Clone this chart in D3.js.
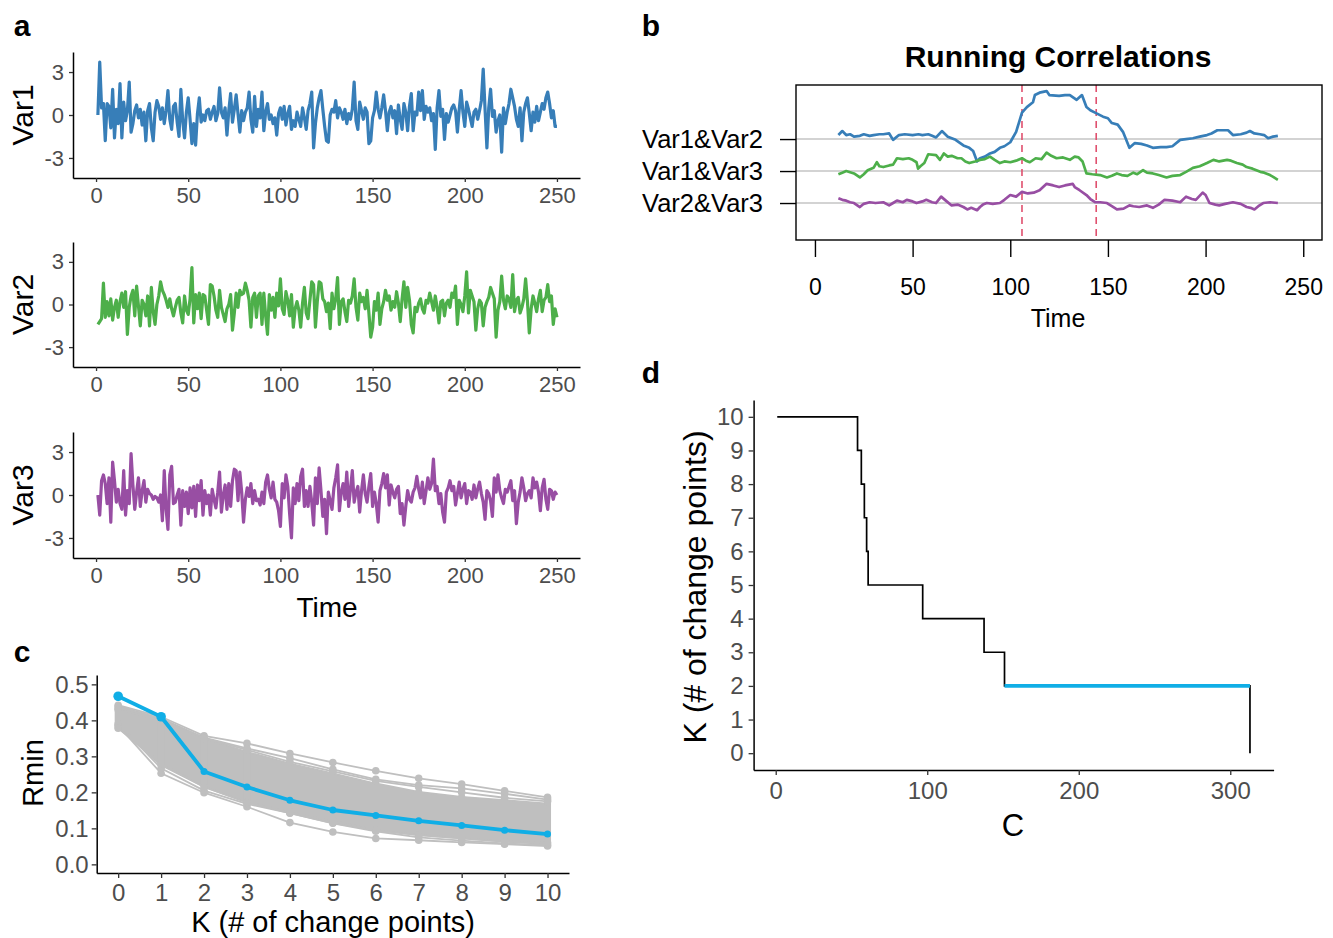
<!DOCTYPE html>
<html>
<head>
<meta charset="utf-8">
<script src="https://d3js.org/d3.v7.min.js"></script>
<style>
  body { margin: 0; background: #fff; }
  svg { display: block; }
</style>
</head>
<body>
<script>
// ---- data ----
var var1 = [0.0,3.7,0.5,0.8,-1.8,0.8,0.6,-0.9,1.8,-1.6,
  0.4,-0.6,2.2,-1.6,0.9,-0.4,0.3,2.3,-1.2,-0.6,
  0.3,0.7,-0.2,0.4,-0.7,0.2,-1.8,0.3,0.8,-0.9,
  -1.8,0.2,1.0,0.6,-0.3,0.5,-0.6,0.3,1.7,-0.3,
  -1.0,0.6,0.8,-0.5,-1.5,1.8,-0.4,-1.6,0.2,1.2,
  -0.3,-2.0,-0.6,-2.1,0.1,1.2,-0.5,0.0,-0.4,0.3,
  0.4,-0.3,0.2,0.6,-0.4,0.1,1.9,0.2,-0.2,0.5,
  -1.4,0.3,1.5,-0.5,0.4,1.4,0.1,-1.2,0.3,-0.4,
  0.2,0.5,1.6,-0.3,-1.2,1.3,-0.8,0.4,-0.2,1.6,
  -1.1,0.2,0.8,-0.3,0.0,-0.6,-0.2,-1.4,0.1,0.5,
  -0.3,0.6,-0.7,0.1,0.6,-1.0,-0.4,-0.8,0.2,-0.3,
  -0.8,0.5,-0.2,-1.0,0.3,0.8,1.6,-2.3,-0.6,0.5,
  1.2,1.7,0.4,-0.8,-1.8,-1.9,0.0,0.4,0.2,1.0,
  -0.2,0.5,0.2,-0.3,0.4,-0.6,0.1,-0.3,0.4,2.3,
  -0.4,-1.0,0.9,0.3,-0.3,0.5,0.2,-2.0,-1.8,-0.2,
  0.3,1.6,0.4,-0.2,0.5,1.4,0.3,-1.1,0.2,0.6,
  -0.2,0.3,-1.3,0.7,-0.3,-1.0,0.8,0.2,-1.1,0.6,
  1.5,-1.1,0.2,0.0,1.6,0.3,1.7,-0.3,0.6,0.2,
  0.5,-0.4,0.1,-2.4,0.5,1.7,-0.1,0.4,-1.7,0.1,
  -0.5,0.0,0.5,0.7,0.3,-1.2,0.4,1.7,0.2,-0.8,
  0.9,0.4,-0.2,-0.8,0.2,0.4,-0.3,0.3,1.0,3.2,
  0.4,-2.3,0.5,1.8,-0.1,0.3,-1.2,-0.4,0.0,-2.6,
  0.5,-0.6,0.2,0.8,1.8,1.2,0.6,-0.3,-0.8,0.5,
  -1.8,0.2,0.8,1.2,0.1,-1.1,0.2,-0.5,0.6,-0.4,
  0.2,0.8,0.4,1.2,1.6,0.8,-0.2,0.3,-0.8,-0.8];

var var2 = [-1.4,-1.2,-1.0,1.5,-0.9,0.2,-0.8,0.4,-1.1,-0.2,
  0.3,-0.9,0.2,0.8,-0.2,0.9,-2.1,-0.2,0.6,1.0,
  -0.8,1.3,-0.1,-1.5,0.3,0.0,-0.8,0.6,-1.5,1.2,
  -0.5,-1.4,0.0,0.6,1.6,1.0,0.7,0.3,-0.2,0.4,
  -0.3,-0.8,-0.2,0.3,0.5,-0.6,-1.3,0.6,-0.4,-0.7,
  0.4,2.6,-1.3,0.7,-0.3,0.8,-1.0,0.7,0.6,-0.4,
  -1.4,1.4,1.3,0.6,-0.4,-0.9,1.0,-0.2,-0.7,-1.2,
  -0.3,0.0,0.7,-1.8,-0.6,0.8,-0.2,1.0,0.7,0.8,
  1.5,1.0,0.3,-1.6,0.5,0.8,-0.9,0.6,0.8,-1.4,
  0.8,-0.8,-2.1,0.7,-0.4,0.5,-0.9,0.8,-0.1,1.8,
  -0.3,-0.7,0.9,0.3,-0.8,0.7,-1.6,-0.3,0.2,-0.4,
  -1.6,0.1,1.2,-0.6,-1.0,0.3,1.6,1.4,-1.6,0.2,
  1.6,1.5,0.4,0.2,-0.5,0.1,-1.7,0.8,-0.3,0.4,
  1.9,-1.4,0.2,0.4,-0.5,-1.2,0.3,0.1,0.6,1.8,
  -0.2,-1.1,0.8,0.2,0.5,-0.3,1.0,-0.6,-2.3,-1.6,
  0.2,-0.4,0.8,-1.4,-0.3,0.2,1.0,0.3,0.6,-0.4,
  0.2,-0.2,0.9,0.1,-1.2,0.4,1.6,-0.2,1.2,0.3,
  -1.4,-2.0,-0.2,-0.5,0.1,0.4,-0.3,-0.6,0.3,0.1,
  0.8,0.2,-0.4,0.6,-0.2,-1.3,0.2,0.3,-0.8,0.1,
  0.3,-0.2,0.8,0.5,1.3,-1.4,0.3,0.0,-0.5,0.6,
  2.3,-0.6,1.0,0.6,0.2,-1.8,-0.3,0.3,0.1,-1.5,
  -0.2,0.2,0.5,1.2,0.8,0.4,-2.3,-0.4,0.2,2.0,
  0.3,-0.3,0.6,0.4,-0.2,2.1,-0.5,0.3,0.5,-0.6,
  -0.2,0.4,1.8,0.2,-2.0,-0.3,0.6,0.1,-0.5,0.4,
  1.0,-0.5,0.3,0.5,1.4,0.2,0.6,-1.4,-0.3,-0.9];

var var3 = [0.0,-1.4,1.0,1.4,0.8,-0.6,1.2,-1.9,2.3,1.0,
  -0.5,0.4,-0.6,-1.0,1.7,-1.4,0.3,-0.6,2.9,0.7,
  -1.0,0.2,1.2,-0.8,0.3,1.0,-0.5,0.4,0.1,0.0,
  -0.3,-0.1,-0.2,-0.5,0.0,-1.8,1.7,-1.0,-2.4,1.4,
  2.0,-0.6,-0.5,0.0,0.4,-2.1,0.3,-0.8,0.2,-1.3,
  0.5,-0.9,0.6,-1.5,0.7,-0.4,1.0,-1.4,0.3,-0.6,
  0.0,-1.4,0.4,-0.3,-0.9,0.2,1.6,-1.2,0.0,0.7,
  -1.0,0.8,-0.8,1.0,1.8,1.7,-0.4,1.6,0.2,-1.9,
  -0.3,0.5,-0.1,0.8,-0.6,0.3,-0.4,-0.3,-0.7,0.2,
  -0.6,0.9,1.4,0.4,-0.2,0.9,-0.3,-0.5,-1.1,-2.2,
  0.8,-0.2,1.4,0.6,-1.3,-3.0,0.5,-0.6,0.8,-0.4,
  1.3,1.8,-0.8,0.3,-0.8,0.6,-0.5,-2.1,1.2,-0.6,
  1.9,0.3,-1.5,-0.3,-2.7,0.2,-0.4,-1.0,0.5,1.2,
  2.1,-1.1,0.2,0.8,-0.3,1.6,-0.8,0.4,1.7,-0.5,
  0.2,0.6,-1.2,0.3,1.4,0.1,-0.5,0.6,1.5,-0.8,
  0.2,-0.6,-1.9,0.3,0.8,1.5,0.5,1.4,-0.7,0.7,
  0.2,-0.2,0.4,0.6,-1.3,-0.6,-2.1,-0.8,0.3,-0.3,
  -0.5,0.2,0.5,1.3,0.4,-0.2,0.9,-0.6,0.3,1.2,
  0.4,0.8,2.5,0.3,0.6,-0.6,0.1,-1.2,-1.9,0.2,
  0.5,1.0,0.3,0.6,-0.7,0.1,0.9,-0.2,0.4,0.8,
  -0.6,0.3,0.2,-0.3,0.7,-0.2,0.4,0.9,0.1,-0.5,
  -1.7,0.3,0.1,-0.4,-1.5,1.2,0.2,1.4,0.3,-0.2,
  -0.6,0.4,0.2,0.6,1.0,-0.4,0.3,-2.0,-0.5,0.2,
  1.2,0.5,-0.4,0.1,0.3,-0.2,1.2,0.5,0.9,0.2,
  -1.1,0.5,1.1,-0.3,-1.0,0.4,0.3,-0.3,0.2,0.0];

// running correlations, [time, r]
var corr12 = [[12,0.05],[14,0.10],[16,0.05],[18,0.06],[20,0.03],[23,0.04],[25,0.06],[28,0.04],[30,0.05],[33,0.06],[35,0.06],[38,0.07],[40,-0.01],[43,0.05],[46,0.06],[50,0.05],[53,0.06],[55,0.05],[58,0.06],[60,0.04],[62,0.02],[65,0.10],[68,0.03],[72,-0.01],[76,-0.08],[79,-0.11],[81,-0.15],[83,-0.28],[84.5,-0.24],[87,-0.22],[89.6,-0.18],[92,-0.16],[94.7,-0.11],[97,-0.09],[100,-0.04],[103,0.09],[106,0.33],[108.5,0.40],[111.6,0.46],[112.6,0.55],[115,0.58],[118.6,0.60],[120,0.55],[125,0.54],[128,0.55],[130.5,0.55],[134,0.49],[136.7,0.55],[139,0.40],[141,0.36],[143.4,0.33],[147.5,0.28],[150,0.26],[152,0.20],[155,0.18],[157.7,0.09],[161,-0.11],[163.8,-0.05],[167,-0.06],[170,-0.08],[173,-0.11],[177,-0.10],[180,-0.10],[183,-0.09],[187,-0.01],[190,0.00],[193.5,0.01],[197,0.03],[200.7,0.05],[203,0.07],[206,0.11],[209,0.11],[211.5,0.11],[214,0.05],[218,0.06],[221,0.08],[222.7,0.10],[225,0.07],[227.8,0.06],[230,0.05],[232,0.01],[234.5,0.03],[237,0.04]];
var corr13 = [[12,-0.04],[14,-0.02],[16,0.00],[20,-0.03],[23,-0.08],[25,-0.04],[27,0.01],[30,0.04],[31.7,0.11],[33,0.06],[35,0.05],[38,0.07],[40,0.08],[42,0.16],[45,0.15],[48,0.16],[50,0.14],[52,0.11],[52.8,0.03],[54,0.06],[56,0.10],[58,0.21],[62,0.20],[64,0.14],[66,0.22],[68,0.18],[70,0.19],[73,0.16],[75,0.16],[77,0.12],[79,0.10],[82,0.12],[84.5,0.14],[87,0.15],[89.6,0.18],[92,0.14],[94.7,0.10],[97,0.12],[100,0.11],[103,0.13],[106,0.16],[108,0.13],[110,0.11],[113,0.16],[116,0.15],[118.6,0.23],[121,0.19],[123.7,0.16],[127,0.17],[130.5,0.14],[133,0.18],[135,0.17],[137,0.12],[139,-0.03],[142,-0.04],[146,-0.05],[149.5,-0.08],[152,-0.06],[154.6,-0.03],[157,-0.05],[160,-0.06],[163,-0.02],[165,-0.04],[168,0.01],[170,-0.02],[173,-0.03],[176,-0.05],[180,-0.08],[183,-0.06],[187,-0.05],[190,-0.01],[193.5,0.04],[197,0.06],[200.7,0.10],[204,0.14],[207,0.12],[211,0.14],[213,0.13],[216,0.10],[219,0.08],[221,0.05],[224,0.03],[228,-0.01],[230,-0.02],[233,-0.05],[235,-0.08],[237,-0.11]];
var corr23 = [[12,0.06],[14,0.04],[16,0.03],[18,0.01],[20,0.00],[23,-0.05],[25,-0.01],[28,0.01],[31,0.00],[35,0.01],[38,-0.03],[40,0.00],[42,0.03],[45,0.01],[47,0.04],[50,0.02],[52,0.00],[55,0.02],[57,0.04],[60,0.01],[62,0.00],[64.6,0.08],[67,0.03],[70,-0.03],[73,-0.02],[76,-0.05],[78,-0.08],[80,-0.06],[83,-0.09],[84.5,-0.05],[86,-0.02],[88,0.00],[91,-0.01],[94.7,0.00],[97,0.04],[100,0.10],[103,0.08],[106,0.14],[109,0.12],[112,0.13],[115,0.16],[118.6,0.24],[122,0.22],[125,0.20],[128,0.22],[132,0.24],[133,0.20],[135.5,0.16],[139,0.10],[141,0.05],[143.4,0.01],[146,0.01],[149.5,0.00],[152,-0.04],[154.6,-0.08],[158,-0.07],[161,-0.03],[163,-0.04],[166,-0.05],[170,-0.03],[173,-0.06],[176,-0.02],[179,0.04],[183,0.03],[187,0.01],[190,0.08],[193,0.05],[195,0.04],[198.5,0.13],[200,0.10],[202,0.00],[205,-0.02],[207,-0.03],[210,-0.01],[214,0.01],[218,-0.01],[221,-0.05],[223,-0.06],[225,-0.08],[227,-0.04],[229.5,0.00],[233,0.01],[237,0.00]];
var corrLabels = ["Var1&Var2", "Var1&Var3", "Var2&Var3"];
var changePoints = [106, 144];

// Rmin vs K
var kValues = [0,1,2,3,4,5,6,7,8,9,10];
var rminSelected = [0.467,0.410,0.258,0.215,0.178,0.151,0.136,0.121,0.108,0.095,0.084];
var bandTop = [0.440,0.405,0.350,0.313,0.280,0.253,0.225,0.202,0.188,0.179,0.169];
var bandBottom = [0.380,0.275,0.215,0.172,0.142,0.114,0.095,0.081,0.072,0.063,0.056];
var grayLines = [
  [0.442,0.410,0.357,0.336,0.308,0.283,0.260,0.239,0.223,0.204,0.186],
  [0.435,0.405,0.352,0.322,0.295,0.264,0.236,0.220,0.211,0.196,0.180],
  [0.430,0.400,0.350,0.318,0.285,0.258,0.232,0.215,0.200,0.185,0.175],
  [0.385,0.253,0.199,0.160,0.116,0.090,0.072,0.067,0.061,0.056,0.051],
  [0.390,0.267,0.205,0.168,0.142,0.114,0.092,0.075,0.066,0.058,0.054],
  [0.378,0.280,0.215,0.172,0.145,0.120,0.095,0.081,0.072,0.063,0.060]
];

// K vs penalty C
var penaltyC = [1, 54, 56.5, 58.5, 60, 61, 97, 137.5, 151, 313];
var nChange = [10, 9, 8, 7, 6, 5, 4, 3, 2, 0];
var selectedK = 2;

var FONT = "'Liberation Sans', Arial, Helvetica, sans-serif";
var varColors = ["#377eb8", "#4daf4a", "#984ea3"];
var blueSel = "#10aee6";
var grayCol = "#bfbfbf";

var svg = d3.select("body").append("svg")
  .attr("width", 1333)
  .attr("height", 938)
  .style("font-family", FONT);

svg.append("rect").attr("width", 1333).attr("height", 938).attr("fill", "#fff");

function styleAxis(g, size, color) {
  g.attr("font-family", FONT).attr("font-size", size);
  g.select(".domain").attr("stroke", "#000").attr("stroke-width", 1.5);
  g.selectAll(".tick line").attr("stroke", "#333").attr("stroke-width", 1.3);
  g.selectAll(".tick text").attr("fill", color);
}

function panelLetter(txt, x, y) {
  svg.append("text").attr("x", x).attr("y", y).attr("dy", "0.35em")
    .attr("text-anchor", "middle")
    .attr("font-size", 30).attr("font-weight", "bold")
    .text(txt);
}

function yTitle(txt, x, y, size) {
  svg.append("text")
    .attr("transform", "translate(" + x + "," + y + ") rotate(-90)")
    .attr("dy", "0.35em")
    .attr("text-anchor", "middle")
    .attr("font-size", size)
    .text(txt);
}

function xTitle(txt, x, y, size) {
  svg.append("text").attr("x", x).attr("y", y).attr("dy", "0.35em")
    .attr("text-anchor", "middle")
    .attr("font-size", size)
    .text(txt);
}

// ---- panel a ----
var xA = d3.scaleLinear().domain([-12.5, 262.5]).range([73, 580]);
var timeIdx = d3.range(1, 251);
var panelsA = [
  { name: "Var1", values: var1, top: 52, bottom: 178 },
  { name: "Var2", values: var2, top: 242, bottom: 367 },
  { name: "Var3", values: var3, top: 432, bottom: 558 }
];

panelsA.forEach(function(p, i) {
  var y = d3.scaleLinear().domain([-4.4, 4.4]).range([p.bottom, p.top]);
  var line = d3.line()
    .x(function(d, j) { return xA(timeIdx[j]); })
    .y(function(d) { return y(d); });

  svg.append("path").datum(p.values)
    .attr("d", line)
    .attr("fill", "none")
    .attr("stroke", varColors[i])
    .attr("stroke-width", 3.2)
    .attr("stroke-linejoin", "round");

  var ga = svg.append("g").attr("transform", "translate(73,0)")
    .call(d3.axisLeft(y).tickValues([-3, 0, 3]).tickSize(4).tickSizeOuter(0).tickPadding(5)
      .tickFormat(function(d) { return String(d); }));
  styleAxis(ga, 22, "#4d4d4d");

  var gx = svg.append("g").attr("transform", "translate(0," + p.bottom + ")")
    .call(d3.axisBottom(xA).tickValues([0, 50, 100, 150, 200, 250]).tickSize(4).tickSizeOuter(0).tickPadding(5));
  styleAxis(gx, 22, "#4d4d4d");

  yTitle(p.name, 22, (p.top + p.bottom) / 2, 30);
});
xTitle("Time", 327, 607, 28);
panelLetter("a", 22, 25);

// ---- panel b ----
var xB = d3.scaleLinear().domain([-9.7, 259.6]).range([796, 1322]);
var yB = d3.scaleLinear().domain([-0.156, 4.69]).range([240, 85]);
var rowOf = [3, 2, 1];
var corrSeries = [corr12, corr13, corr23];

rowOf.forEach(function(r) {
  svg.append("line")
    .attr("x1", 796).attr("x2", 1322)
    .attr("y1", yB(r)).attr("y2", yB(r))
    .attr("stroke", "#c4c4c4").attr("stroke-width", 1.6);
});

changePoints.forEach(function(cp) {
  svg.append("line")
    .attr("x1", xB(cp)).attr("x2", xB(cp))
    .attr("y1", 85).attr("y2", 240)
    .attr("stroke", "#e0506e").attr("stroke-width", 1.6)
    .attr("stroke-dasharray", "7,5");
});

corrSeries.forEach(function(s, i) {
  var line = d3.line()
    .x(function(d) { return xB(d[0]); })
    .y(function(d) { return yB(rowOf[i] + d[1] * 2.5); });
  svg.append("path").datum(s)
    .attr("d", line)
    .attr("fill", "none")
    .attr("stroke", varColors[i])
    .attr("stroke-width", 2.7)
    .attr("stroke-linejoin", "round");
});

svg.append("rect")
  .attr("x", 796).attr("y", 85).attr("width", 526).attr("height", 155)
  .attr("fill", "none").attr("stroke", "#000").attr("stroke-width", 1.4);

var gbx = svg.append("g").attr("transform", "translate(0,240)")
  .call(d3.axisBottom(xB).tickValues([0, 50, 100, 150, 200, 250]).tickSize(17).tickPadding(22));
gbx.select(".domain").remove();
styleAxis(gbx, 23, "#000");
gbx.selectAll(".tick line").attr("stroke", "#000").attr("stroke-width", 1.4);

var gby = svg.append("g").attr("transform", "translate(796,0)")
  .call(d3.axisLeft(yB).tickValues(rowOf).tickSize(16).tickPadding(17)
    .tickFormat(function(d, i) { return corrLabels[i]; }));
gby.select(".domain").remove();
styleAxis(gby, 25.5, "#000");
gby.selectAll(".tick line").attr("stroke", "#000").attr("stroke-width", 1.4);

svg.append("text").attr("x", 1058).attr("y", 56).attr("dy", "0.35em")
  .attr("text-anchor", "middle").attr("font-size", 30).attr("font-weight", "bold")
  .text("Running Correlations");
xTitle("Time", 1058, 318, 25);
panelLetter("b", 651, 25);

// ---- panel c ----
var xC = d3.scaleLinear().domain([-0.5, 10.5]).range([96.7, 569]);
var yC = d3.scaleLinear().domain([-0.024, 0.526]).range([873, 675]);

var band = d3.area()
  .x(function(d, i) { return xC(kValues[i]); })
  .y0(function(d, i) { return yC(bandBottom[i]); })
  .y1(function(d) { return yC(d); });
svg.append("path").datum(bandTop)
  .attr("d", band).attr("fill", grayCol).attr("stroke", grayCol).attr("stroke-width", 1.5);

kValues.forEach(function(k, i) {
  svg.append("line")
    .attr("x1", xC(k)).attr("x2", xC(k))
    .attr("y1", yC(bandBottom[i])).attr("y2", yC(bandTop[i]))
    .attr("stroke", grayCol).attr("stroke-width", 7).attr("stroke-linecap", "round");
});

var lineC = d3.line()
  .x(function(d, i) { return xC(kValues[i]); })
  .y(function(d) { return yC(d); });

grayLines.forEach(function(g) {
  svg.append("path").datum(g)
    .attr("d", lineC).attr("fill", "none")
    .attr("stroke", grayCol).attr("stroke-width", 1.8);
  svg.append("g").selectAll("circle").data(g).join("circle")
    .attr("cx", function(d, i) { return xC(kValues[i]); })
    .attr("cy", function(d) { return yC(d); })
    .attr("r", 3.8).attr("fill", grayCol);
});

svg.append("path").datum(rminSelected)
  .attr("d", lineC).attr("fill", "none")
  .attr("stroke", blueSel).attr("stroke-width", 3.8).attr("stroke-linejoin", "round");
svg.append("g").selectAll("circle").data(rminSelected).join("circle")
  .attr("cx", function(d, i) { return xC(kValues[i]); })
  .attr("cy", function(d) { return yC(d); })
  .attr("r", function(d, i) { return i < 2 ? 4.8 : 3.5; })
  .attr("fill", blueSel);

var gcy = svg.append("g").attr("transform", "translate(96.7,0)")
  .call(d3.axisLeft(yC).tickValues([0, 0.1, 0.2, 0.3, 0.4, 0.5]).tickSize(5).tickSizeOuter(0).tickPadding(3)
    .tickFormat(d3.format(".1f")));
styleAxis(gcy, 24, "#4d4d4d");
var gcx = svg.append("g").attr("transform", "translate(0,873)")
  .call(d3.axisBottom(xC).tickValues(kValues).tickSize(5).tickSizeOuter(0).tickPadding(6));
styleAxis(gcx, 24, "#4d4d4d");

yTitle("Rmin", 33, 773, 29);
xTitle("K (# of change points)", 333, 922, 29);
panelLetter("c", 22, 651);

// ---- panel d ----
var xD = d3.scaleLinear().domain([-14.6, 328.6]).range([753.6, 1273.6]);
var yD = d3.scaleLinear().domain([-0.5, 10.5]).range([770, 400]);

var stepPts = penaltyC.map(function(c, i) { return [c, nChange[i]]; });
var stepLine = d3.line()
  .x(function(d) { return xD(d[0]); })
  .y(function(d) { return yD(d[1]); })
  .curve(d3.curveStepAfter);

svg.append("path").datum(stepPts)
  .attr("d", stepLine).attr("fill", "none")
  .attr("stroke", "#000").attr("stroke-width", 1.7);

var selIdx = nChange.indexOf(selectedK);
svg.append("line")
  .attr("x1", xD(penaltyC[selIdx])).attr("x2", xD(penaltyC[selIdx + 1]))
  .attr("y1", yD(selectedK)).attr("y2", yD(selectedK))
  .attr("stroke", blueSel).attr("stroke-width", 3.6);

var gdy = svg.append("g").attr("transform", "translate(753.6,0)")
  .call(d3.axisLeft(yD).tickValues(d3.range(0, 11)).tickSize(5).tickSizeOuter(0).tickPadding(5));
styleAxis(gdy, 24, "#4d4d4d");
var gdx = svg.append("g").attr("transform", "translate(0,770)")
  .call(d3.axisBottom(xD).tickValues([0, 100, 200, 300]).tickSize(5).tickSizeOuter(0).tickPadding(7));
styleAxis(gdx, 24, "#4d4d4d");

yTitle("K (# of change points)", 695, 587, 32);
xTitle("C", 1013, 825, 31);
panelLetter("d", 651, 372);
</script>
</body>
</html>
